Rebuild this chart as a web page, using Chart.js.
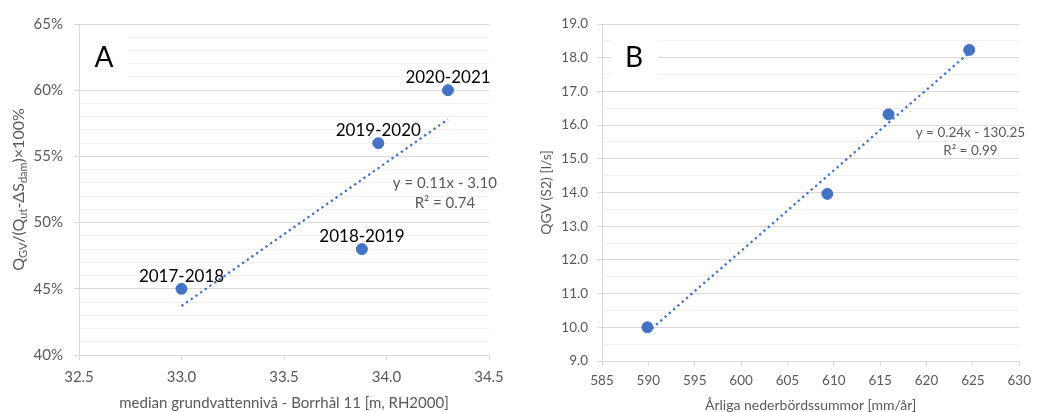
<!DOCTYPE html>
<html>
<head>
<meta charset="utf-8">
<script src="https://cdn.jsdelivr.net/npm/chart.js@4.4.0/dist/chart.umd.min.js"></script>
<style>
  body { margin: 0; background: #ffffff; }
  #wrap { position: relative; width: 1038px; height: 412px; }
  canvas { position: absolute; top: 0; }
  #chartA { left: 0; }
  #chartB { left: 520px; }
</style>
</head>
<body>
<div id="wrap">
  <canvas id="chartA" width="520" height="412"></canvas>
  <canvas id="chartB" width="518" height="412"></canvas>
</div>
<script>
'use strict';

// data, panel A
var yearsA = ['2017-2018', '2018-2019', '2019-2020', '2020-2021'];
var levelA = [33.0, 33.88, 33.96, 34.30];
var shareA = [45, 48, 56, 60];
var trendXA = [33.0, 34.30];
var trendYA = [43.7, 57.8];
var equationA = ['y = 0.11x - 3.10', 'R\u00b2 = 0.74'];

// data, panel B
var rainB = [589.9, 609.3, 615.9, 624.6];
var flowB = [10.0, 13.96, 16.32, 18.23];
var trendXB = [589.9, 624.6];
var trendYB = [9.85, 18.15];
var equationB = ['y = 0.24x - 130.25', 'R\u00b2 = 0.99'];

// axes
var xRangeA = [32.5, 34.5, 0.5];
var yRangeA = [40, 65, 1];
var xRangeB = [585, 630, 5];
var yRangeB = [9, 19, 0.5];

var BLUE = '#4472c4';
var GREY_TEXT = '#595959';
var GRID_MAJOR = '#d9d9d9';
var GRID_MINOR = '#f0f0f0';

function toPoints(xs, ys){
  return xs.map(function(x, i){ return {x: x, y: ys[i]}; });
}

// draws letter box, point labels, equation and a rich y title
var panelDecor = {
  id: 'panelDecor',
  beforeDatasetsDraw: function(chart, args, opts){
    var ctx = chart.ctx;
    var area = chart.chartArea;
    ctx.save();
    ctx.fillStyle = '#ffffff';
    ctx.fillRect(area.left + opts.box[0], area.top + opts.box[1], opts.box[2], opts.box[3]);
    ctx.fillStyle = '#000000';
    ctx.font = '28px Lato';
    ctx.textAlign = 'center';
    ctx.textBaseline = 'alphabetic';
    ctx.fillText(opts.letter, area.left + opts.letterAt[0], area.top + opts.letterAt[1]);
    ctx.restore();
  },
  afterDatasetsDraw: function(chart, args, opts){
    var ctx = chart.ctx;
    var xs = chart.scales.x;
    var ys = chart.scales.y;
    ctx.save();
    if(opts.labels){
      var pts = chart.getDatasetMeta(0).data;
      ctx.fillStyle = '#000000';
      ctx.font = '17px Lato';
      ctx.textAlign = 'center';
      ctx.textBaseline = 'alphabetic';
      for (var i = 0; i < pts.length; i++) {
        ctx.fillText(opts.labels[i], pts[i].x, pts[i].y - 7);
      }
    }
    ctx.fillStyle = GREY_TEXT;
    ctx.font = opts.eqSize + 'px Lato';
    ctx.textAlign = 'center';
    var ex = xs.getPixelForValue(opts.eqAt[0]);
    var ey = ys.getPixelForValue(opts.eqAt[1]);
    for (var j = 0; j < opts.equation.length; j++) {
      ctx.fillText(opts.equation[j], ex, ey + j * opts.eqGap);
    }
    ctx.restore();
  },
  afterDraw: function(chart, args, opts){
    if(!opts.richTitle) return;
    var ctx = chart.ctx;
    var area = chart.chartArea;
    var parts = opts.richTitle;
    var big = '16px Lato';
    var small = '11px Lato';
    ctx.save();
    var total = 0;
    for (var i = 0; i < parts.length; i++) {
      ctx.font = parts[i][1] ? small : big;
      total += ctx.measureText(parts[i][0]).width;
    }
    ctx.translate(opts.titleX, (area.top + area.bottom) / 2);
    ctx.rotate(-Math.PI / 2);
    ctx.fillStyle = GREY_TEXT;
    ctx.textAlign = 'left';
    ctx.textBaseline = 'alphabetic';
    var pos = -total / 2;
    for (var k = 0; k < parts.length; k++) {
      ctx.font = parts[k][1] ? small : big;
      ctx.fillText(parts[k][0], pos, parts[k][1] ? 3 : 0);
      pos += ctx.measureText(parts[k][0]).width;
    }
    ctx.restore();
  }
};

function makeScales(xRange, yRange, opt){
  return {
    x: {
      type: 'linear',
      min: xRange[0],
      max: xRange[1],
      afterFit: function(scale){ scale.height = opt.xHeight; },
      ticks: {
        stepSize: xRange[2],
        padding: opt.xPad,
        color: GREY_TEXT,
        font: {family: 'Lato', size: opt.tickSize},
        callback: function(v){ return v.toFixed(opt.xDec); }
      },
      grid: {drawOnChartArea: false, drawTicks: true, tickLength: 5, tickColor: GRID_MAJOR},
      border: {display: true, color: GRID_MAJOR},
      title: {
        display: true,
        text: opt.xTitle,
        color: GREY_TEXT,
        font: {family: 'Lato', size: opt.titleSize, lineHeight: opt.xTitleLh},
        padding: 0
      }
    },
    y: {
      type: 'linear',
      min: yRange[0],
      max: yRange[1],
      afterFit: function(scale){ scale.width = opt.yWidth; },
      ticks: {
        stepSize: yRange[2],
        autoSkip: false,
        padding: opt.yPad,
        color: GREY_TEXT,
        font: {family: 'Lato', size: opt.tickSize},
        callback: function(v){ return opt.isMajor(v) ? opt.yLabel(v) : ''; }
      },
      grid: {
        drawTicks: true,
        tickLength: 5,
        color: function(c){ return opt.isMajor(c.tick.value) ? GRID_MAJOR : GRID_MINOR; },
        tickColor: function(c){ return opt.isMajor(c.tick.value) ? GRID_MAJOR : 'rgba(0,0,0,0)'; }
      },
      border: {display: true, color: GRID_MAJOR},
      title: {
        display: !!opt.yTitle,
        text: opt.yTitle || '',
        color: GREY_TEXT,
        font: {family: 'Lato', size: opt.titleSize},
        padding: {top: opt.yTitlePad, bottom: 0}
      }
    }
  };
}

function makeDatasets(xs, ys, tx, ty){
  return [
    {
      data: toPoints(xs, ys),
      backgroundColor: BLUE,
      borderColor: BLUE,
      borderWidth: 1,
      pointRadius: 5.5,
      order: 0
    },
    {
      data: toPoints(tx, ty),
      showLine: true,
      borderColor: BLUE,
      borderWidth: 2.3,
      borderDash: [2.3, 3.4],
      pointRadius: 0,
      fill: false,
      order: 1
    }
  ];
}

// panel A
new Chart(document.getElementById('chartA').getContext('2d'), {
  type: 'scatter',
  data: {datasets: makeDatasets(levelA, shareA, trendXA, trendYA)},
  options: {
    responsive: false,
    animation: false,
    devicePixelRatio: 1,
    layout: {padding: {left: 0, right: 31, top: 24, bottom: 0}},
    plugins: {
      legend: {display: false},
      tooltip: {enabled: false},
      panelDecor: {
        box: [1, 6, 48, 52],
        letter: 'A',
        letterAt: [25, 43],
        labels: yearsA,
        equation: equationA,
        eqAt: [34.285, 52.6],
        eqSize: 15,
        eqGap: 20,
        titleX: 24,
        richTitle: [['Q', 0], ['GV', 1], ['/(Q', 0], ['ut', 1], ['-\u0394S', 0], ['dam', 1], [')\u00d7100%', 0]]
      }
    },
    scales: makeScales(xRangeA, yRangeA, {
      xHeight: 57, xPad: 8, xDec: 1, tickSize: 15, titleSize: 15, xTitleLh: 1.2,
      xTitle: 'median grundvattenniv\u00e5 - Borrh\u00e5l 11 [m, RH2000]',
      yWidth: 79, yPad: 11,
      isMajor: function(v){ return v % 5 === 0; },
      yLabel: function(v){ return v + '%'; }
    })
  },
  plugins: [panelDecor]
});

// panel B
new Chart(document.getElementById('chartB').getContext('2d'), {
  type: 'scatter',
  data: {datasets: makeDatasets(rainB, flowB, trendXB, trendYB)},
  options: {
    responsive: false,
    animation: false,
    devicePixelRatio: 1,
    layout: {padding: {left: 0, right: 15, top: 24, bottom: 0}},
    plugins: {
      legend: {display: false},
      tooltip: {enabled: false},
      panelDecor: {
        box: [10, 9, 46, 47],
        letter: 'B',
        letterAt: [32, 43],
        labels: null,
        equation: equationB,
        eqAt: [624.73, 15.65],
        eqSize: 13.5,
        eqGap: 18,
        richTitle: null
      }
    },
    scales: makeScales(xRangeB, yRangeB, {
      xHeight: 51, xPad: 7, xDec: 0, tickSize: 13.5, titleSize: 14, xTitleLh: 1.0,
      xTitle: '\u00c5rliga nederb\u00f6rdssummor [mm/\u00e5r]',
      yWidth: 82, yPad: 9, yTitle: 'QGV (S2) [l/s]', yTitlePad: 18,
      isMajor: function(v){ return Number.isInteger(v); },
      yLabel: function(v){ return v.toFixed(1); }
    })
  },
  plugins: [panelDecor]
});
</script>
</body>
</html>
